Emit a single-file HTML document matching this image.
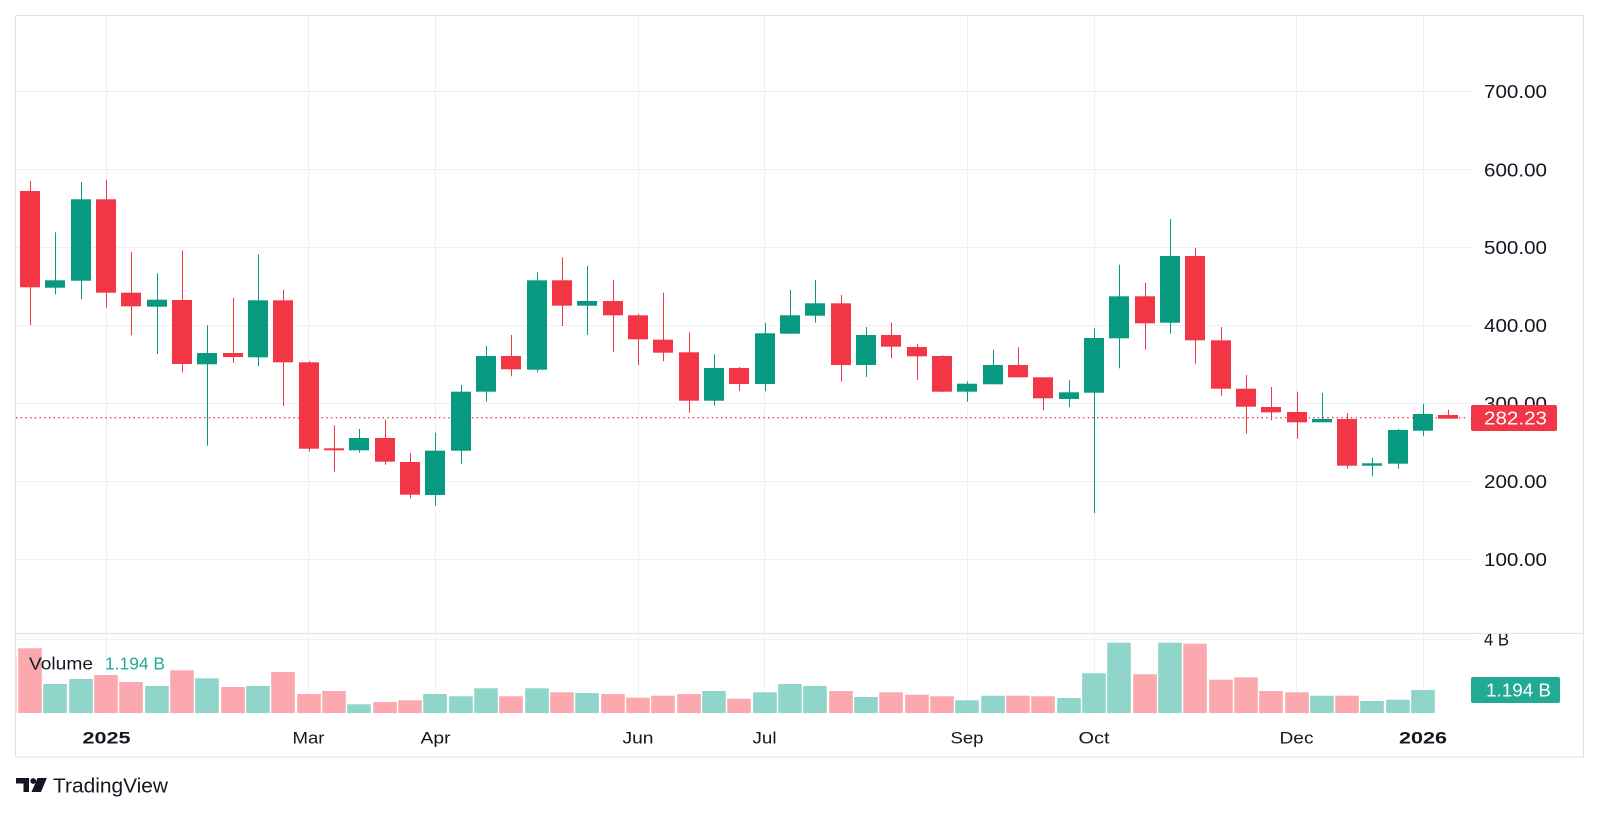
<!DOCTYPE html>
<html>
<head>
<meta charset="utf-8">
<style>
  html, body { margin: 0; padding: 0; background: #ffffff; }
  svg { display: block; }
  text { font-family: "Liberation Sans", "DejaVu Sans", sans-serif; }
</style>
</head>
<body>
<svg width="1600" height="813" viewBox="0 0 1600 813" xmlns="http://www.w3.org/2000/svg">
  <defs>
    <clipPath id="pane"><rect x="16" y="16" width="1455" height="617"/></clipPath>
    <clipPath id="vpane"><rect x="16" y="634" width="1455" height="82"/></clipPath>
    <clipPath id="vaxis"><rect x="1471" y="634" width="112" height="82"/></clipPath>
  </defs>
  <rect x="0" y="0" width="1600" height="813" fill="#ffffff"/>

  <!-- horizontal grid -->
  <g stroke="#eff0f3" stroke-width="1">
    <line x1="16" y1="91.5" x2="1471" y2="91.5"/>
    <line x1="16" y1="169.5" x2="1471" y2="169.5"/>
    <line x1="16" y1="247.5" x2="1471" y2="247.5"/>
    <line x1="16" y1="325.5" x2="1471" y2="325.5"/>
    <line x1="16" y1="403.5" x2="1471" y2="403.5"/>
    <line x1="16" y1="481.5" x2="1471" y2="481.5"/>
    <line x1="16" y1="559.5" x2="1471" y2="559.5"/>
    <line x1="16" y1="639.5" x2="1471" y2="639.5"/>
  </g>
  <!-- vertical grid -->
  <g stroke="#eff0f3" stroke-width="1">
    <line x1="106.5" y1="16" x2="106.5" y2="715"/>
    <line x1="308.5" y1="16" x2="308.5" y2="715"/>
    <line x1="435.5" y1="16" x2="435.5" y2="715"/>
    <line x1="638.5" y1="16" x2="638.5" y2="715"/>
    <line x1="764.5" y1="16" x2="764.5" y2="715"/>
    <line x1="967.5" y1="16" x2="967.5" y2="715"/>
    <line x1="1094.5" y1="16" x2="1094.5" y2="715"/>
    <line x1="1296.5" y1="16" x2="1296.5" y2="715"/>
    <line x1="1423.5" y1="16" x2="1423.5" y2="715"/>
  </g>

  <!-- last price dotted line -->
  <line x1="16" y1="417.7" x2="1468" y2="417.7" stroke="#f23645" stroke-width="1.3" stroke-dasharray="1.4 3.3"/>

  <!-- candles -->
  <g clip-path="url(#pane)">
    <g fill="#f23645">
      <rect x="30" y="181" width="1" height="144"/><rect x="20" y="191" width="20" height="96.3"/>
      <rect x="106" y="179.7" width="1" height="128"/><rect x="96" y="199.3" width="20" height="93.4"/>
      <rect x="131" y="252" width="1" height="83.3"/><rect x="121" y="292.7" width="20" height="13.6"/>
      <rect x="182" y="250.3" width="1" height="122"/><rect x="172" y="300" width="20" height="64"/>
      <rect x="233" y="297.7" width="1" height="65"/><rect x="223" y="353" width="20" height="4"/>
      <rect x="283" y="290" width="1" height="116"/><rect x="273" y="300.3" width="20" height="62"/>
      <rect x="309" y="361" width="1" height="90.7"/><rect x="299" y="362.3" width="20" height="86.4"/>
      <rect x="334" y="425.3" width="1" height="46.4"/><rect x="324" y="448.3" width="20" height="2"/>
      <rect x="385" y="419.7" width="1" height="45"/><rect x="375" y="438" width="20" height="23.7"/>
      <rect x="410" y="453" width="1" height="45.3"/><rect x="400" y="462" width="20" height="32.7"/>
      <rect x="511" y="335" width="1" height="41.3"/><rect x="501" y="356" width="20" height="13.3"/>
      <rect x="562" y="257.3" width="1" height="68.7"/><rect x="552" y="280.3" width="20" height="25.4"/>
      <rect x="613" y="279.7" width="1" height="72"/><rect x="603" y="301" width="20" height="14.3"/>
      <rect x="638" y="314" width="1" height="51"/><rect x="628" y="315.3" width="20" height="24"/>
      <rect x="663" y="292.7" width="1" height="68.6"/><rect x="653" y="339.7" width="20" height="13"/>
      <rect x="689" y="332.3" width="1" height="80.4"/><rect x="679" y="352.3" width="20" height="48.4"/>
      <rect x="739" y="367" width="1" height="24"/><rect x="729" y="368" width="20" height="16"/>
      <rect x="841" y="295" width="1" height="86.7"/><rect x="831" y="303.3" width="20" height="61.7"/>
      <rect x="891" y="322.7" width="1" height="35.3"/><rect x="881" y="335" width="20" height="11.7"/>
      <rect x="917" y="343.7" width="1" height="36.3"/><rect x="907" y="347" width="20" height="9.3"/>
      <rect x="942" y="355.3" width="1" height="36.7"/><rect x="932" y="356" width="20" height="35.7"/>
      <rect x="1018" y="347.3" width="1" height="30"/><rect x="1008" y="365" width="20" height="12.3"/>
      <rect x="1043" y="377.3" width="1" height="33"/><rect x="1033" y="377.3" width="20" height="21"/>
      <rect x="1145" y="282.7" width="1" height="67"/><rect x="1135" y="296.3" width="20" height="27"/>
      <rect x="1195" y="247.7" width="1" height="116"/><rect x="1185" y="256" width="20" height="84.3"/>
      <rect x="1221" y="327" width="1" height="68.7"/><rect x="1211" y="340.3" width="20" height="48.4"/>
      <rect x="1246" y="375" width="1" height="58.7"/><rect x="1236" y="388.7" width="20" height="18"/>
      <rect x="1271" y="387" width="1" height="33.3"/><rect x="1261" y="407" width="20" height="5.3"/>
      <rect x="1297" y="391.7" width="1" height="47"/><rect x="1287" y="412" width="20" height="10.3"/>
      <rect x="1347" y="413" width="1" height="55.7"/><rect x="1337" y="419" width="20" height="46.7"/>
      <rect x="1448" y="409.7" width="1" height="9"/><rect x="1438" y="415" width="20" height="3.7"/>
    </g>
    <g fill="#089981">
      <rect x="55" y="232.3" width="1" height="62"/><rect x="45" y="280.3" width="20" height="7.4"/>
      <rect x="81" y="182" width="1" height="117"/><rect x="71" y="199.3" width="20" height="81.4"/>
      <rect x="157" y="273.3" width="1" height="80.7"/><rect x="147" y="299.7" width="20" height="7"/>
      <rect x="207" y="325.3" width="1" height="120.4"/><rect x="197" y="353" width="20" height="11.3"/>
      <rect x="258" y="254.3" width="1" height="111.7"/><rect x="248" y="300.3" width="20" height="57"/>
      <rect x="359" y="429" width="1" height="23.7"/><rect x="349" y="438" width="20" height="12.3"/>
      <rect x="435" y="432.7" width="1" height="73"/><rect x="425" y="450.7" width="20" height="44.3"/>
      <rect x="461" y="385" width="1" height="78.7"/><rect x="451" y="391.7" width="20" height="59"/>
      <rect x="486" y="346" width="1" height="55.7"/><rect x="476" y="356" width="20" height="35.7"/>
      <rect x="537" y="272.3" width="1" height="100"/><rect x="527" y="280.3" width="20" height="89.4"/>
      <rect x="587" y="266" width="1" height="69"/><rect x="577" y="301" width="20" height="4.7"/>
      <rect x="714" y="354.3" width="1" height="51.4"/><rect x="704" y="368" width="20" height="32.7"/>
      <rect x="765" y="323" width="1" height="68"/><rect x="755" y="333.3" width="20" height="50.7"/>
      <rect x="790" y="290" width="1" height="44"/><rect x="780" y="315.3" width="20" height="18.4"/>
      <rect x="815" y="280" width="1" height="42.7"/><rect x="805" y="303.3" width="20" height="12.4"/>
      <rect x="866" y="327" width="1" height="50"/><rect x="856" y="335" width="20" height="30"/>
      <rect x="967" y="381.3" width="1" height="20.4"/><rect x="957" y="383.7" width="20" height="8"/>
      <rect x="993" y="349.7" width="1" height="34.6"/><rect x="983" y="365" width="20" height="19.3"/>
      <rect x="1069" y="380.3" width="1" height="26.7"/><rect x="1059" y="392.3" width="20" height="6.7"/>
      <rect x="1094" y="328.3" width="1" height="184.7"/><rect x="1084" y="338" width="20" height="54.7"/>
      <rect x="1119" y="264.7" width="1" height="103.6"/><rect x="1109" y="296.3" width="20" height="42"/>
      <rect x="1170" y="219" width="1" height="114.7"/><rect x="1160" y="256" width="20" height="66.7"/>
      <rect x="1322" y="393" width="1" height="29.3"/><rect x="1312" y="419" width="20" height="3.3"/>
      <rect x="1372" y="457.7" width="1" height="18.6"/><rect x="1362" y="463.3" width="20" height="2.4"/>
      <rect x="1398" y="428.7" width="1" height="40"/><rect x="1388" y="430" width="20" height="33.7"/>
      <rect x="1423" y="403.7" width="1" height="32.3"/><rect x="1413" y="414" width="20" height="16.7"/>
    </g>
  </g>

  <!-- volume bars -->
  <g clip-path="url(#vpane)">
    <g fill="#fba8af">
      <rect x="-7.1" y="657" width="23.6" height="56"/>
      <rect x="18.2" y="648.3" width="23.6" height="64.7"/>
      <rect x="94.2" y="675" width="23.6" height="38"/>
      <rect x="119.2" y="682" width="23.6" height="31"/>
      <rect x="170.2" y="670.3" width="23.6" height="42.7"/>
      <rect x="221.2" y="687" width="23.6" height="26"/>
      <rect x="271.2" y="672" width="23.6" height="41"/>
      <rect x="297.2" y="694" width="23.6" height="19"/>
      <rect x="322.2" y="691" width="23.6" height="22"/>
      <rect x="373.2" y="702" width="23.6" height="11"/>
      <rect x="398.2" y="700.3" width="23.6" height="12.7"/>
      <rect x="499.2" y="696.3" width="23.6" height="16.7"/>
      <rect x="550.2" y="692.3" width="23.6" height="20.7"/>
      <rect x="601.2" y="694" width="23.6" height="19"/>
      <rect x="626.2" y="697.7" width="23.6" height="15.3"/>
      <rect x="651.2" y="695.7" width="23.6" height="17.3"/>
      <rect x="677.2" y="694" width="23.6" height="19"/>
      <rect x="727.2" y="698.7" width="23.6" height="14.3"/>
      <rect x="829.2" y="691" width="23.6" height="22"/>
      <rect x="879.2" y="692.3" width="23.6" height="20.7"/>
      <rect x="905.2" y="694.7" width="23.6" height="18.3"/>
      <rect x="930.2" y="696.3" width="23.6" height="16.7"/>
      <rect x="1006.2" y="695.7" width="23.6" height="17.3"/>
      <rect x="1031.2" y="696.3" width="23.6" height="16.7"/>
      <rect x="1133.2" y="674.3" width="23.6" height="38.7"/>
      <rect x="1183.2" y="643.7" width="23.6" height="69.3"/>
      <rect x="1209.2" y="679.7" width="23.6" height="33.3"/>
      <rect x="1234.2" y="677.3" width="23.6" height="35.7"/>
      <rect x="1259.2" y="691" width="23.6" height="22"/>
      <rect x="1285.2" y="692.3" width="23.6" height="20.7"/>
      <rect x="1335.2" y="695.7" width="23.6" height="17.3"/>
    </g>
    <g fill="#90d5c9">
      <rect x="43.2" y="684" width="23.6" height="29"/>
      <rect x="69.2" y="679" width="23.6" height="34"/>
      <rect x="145.2" y="686" width="23.6" height="27"/>
      <rect x="195.2" y="678.3" width="23.6" height="34.7"/>
      <rect x="246.2" y="686" width="23.6" height="27"/>
      <rect x="347.2" y="704.3" width="23.6" height="8.7"/>
      <rect x="423.2" y="694" width="23.6" height="19"/>
      <rect x="449.2" y="696.3" width="23.6" height="16.7"/>
      <rect x="474.2" y="688.3" width="23.6" height="24.7"/>
      <rect x="525.2" y="688.3" width="23.6" height="24.7"/>
      <rect x="575.2" y="693" width="23.6" height="20"/>
      <rect x="702.2" y="691" width="23.6" height="22"/>
      <rect x="753.2" y="692.3" width="23.6" height="20.7"/>
      <rect x="778.2" y="684" width="23.6" height="29"/>
      <rect x="803.2" y="686" width="23.6" height="27"/>
      <rect x="854.2" y="697" width="23.6" height="16"/>
      <rect x="955.2" y="700.3" width="23.6" height="12.7"/>
      <rect x="981.2" y="695.7" width="23.6" height="17.3"/>
      <rect x="1057.2" y="698" width="23.6" height="15"/>
      <rect x="1082.2" y="673.3" width="23.6" height="39.7"/>
      <rect x="1107.2" y="642.7" width="23.6" height="70.3"/>
      <rect x="1158.2" y="642.7" width="23.6" height="70.3"/>
      <rect x="1310.2" y="695.7" width="23.6" height="17.3"/>
      <rect x="1360.2" y="701" width="23.6" height="12"/>
      <rect x="1386.2" y="699.7" width="23.6" height="13.3"/>
      <rect x="1411.2" y="690" width="23.6" height="23"/>
    </g>
  </g>

  <!-- volume legend -->
  <text x="29" y="669.3" font-size="17.5" fill="#131722" textLength="64" lengthAdjust="spacingAndGlyphs">Volume</text>
  <text x="105" y="669.3" font-size="17.5" fill="#22ab94" textLength="60" lengthAdjust="spacingAndGlyphs">1.194 B</text>

  <!-- pane separator -->
  <line x1="15" y1="633.5" x2="1584" y2="633.5" stroke="#e0e3eb" stroke-width="1.2"/>

  <!-- price axis labels -->
  <g font-size="18" fill="#131722">
    <text x="1484" y="98.2" textLength="63" lengthAdjust="spacingAndGlyphs">700.00</text>
    <text x="1484" y="176.5" textLength="63" lengthAdjust="spacingAndGlyphs">600.00</text>
    <text x="1484" y="254.2" textLength="63" lengthAdjust="spacingAndGlyphs">500.00</text>
    <text x="1484" y="332.2" textLength="63" lengthAdjust="spacingAndGlyphs">400.00</text>
    <text x="1484" y="410.2" textLength="63" lengthAdjust="spacingAndGlyphs">300.00</text>
    <text x="1484" y="488.2" textLength="63" lengthAdjust="spacingAndGlyphs">200.00</text>
    <text x="1484" y="566.2" textLength="63" lengthAdjust="spacingAndGlyphs">100.00</text>
  </g>
  <g clip-path="url(#vaxis)">
    <text x="1484" y="645.7" font-size="18" fill="#131722" textLength="25" lengthAdjust="spacingAndGlyphs">4 B</text>
  </g>

  <!-- last price label -->
  <rect x="1471" y="405" width="86" height="26" rx="2" fill="#f23645"/>
  <text x="1484" y="424.5" font-size="18" fill="#ffffff" textLength="63" lengthAdjust="spacingAndGlyphs">282.23</text>

  <!-- volume label -->
  <rect x="1471" y="677" width="89" height="26" rx="2" fill="#22ab94"/>
  <text x="1486" y="696.5" font-size="18" fill="#ffffff" textLength="65" lengthAdjust="spacingAndGlyphs">1.194 B</text>

  <!-- time axis labels -->
  <g font-size="17" fill="#131722" text-anchor="middle">
    <text x="106.5" y="743.3" font-weight="bold" textLength="48" lengthAdjust="spacingAndGlyphs">2025</text>
    <text x="308.5" y="743.3" textLength="32" lengthAdjust="spacingAndGlyphs">Mar</text>
    <text x="435.5" y="743.3" textLength="30" lengthAdjust="spacingAndGlyphs">Apr</text>
    <text x="638" y="743.3" textLength="31" lengthAdjust="spacingAndGlyphs">Jun</text>
    <text x="764.5" y="743.3" textLength="24" lengthAdjust="spacingAndGlyphs">Jul</text>
    <text x="967" y="743.3" textLength="33" lengthAdjust="spacingAndGlyphs">Sep</text>
    <text x="1094" y="743.3" textLength="31" lengthAdjust="spacingAndGlyphs">Oct</text>
    <text x="1296.5" y="743.3" textLength="34" lengthAdjust="spacingAndGlyphs">Dec</text>
    <text x="1423" y="743.3" font-weight="bold" textLength="48" lengthAdjust="spacingAndGlyphs">2026</text>
  </g>

  <!-- outer frame -->
  <rect x="15.5" y="15.5" width="1568" height="741.5" fill="none" stroke="#e0e3eb" stroke-width="1"/>

  <!-- TradingView logo -->
  <g fill="#131722">
    <path d="M16 778 H29 V792 H23.5 V783.5 H16 Z"/>
    <circle cx="33.2" cy="781" r="2.9"/>
    <path d="M37.5 778 H46.8 L41 792 H31.5 Z"/>
  </g>
  <text x="53" y="792.3" font-size="20.4" fill="#131722" textLength="115" lengthAdjust="spacingAndGlyphs">TradingView</text>
</svg>
</body>
</html>
